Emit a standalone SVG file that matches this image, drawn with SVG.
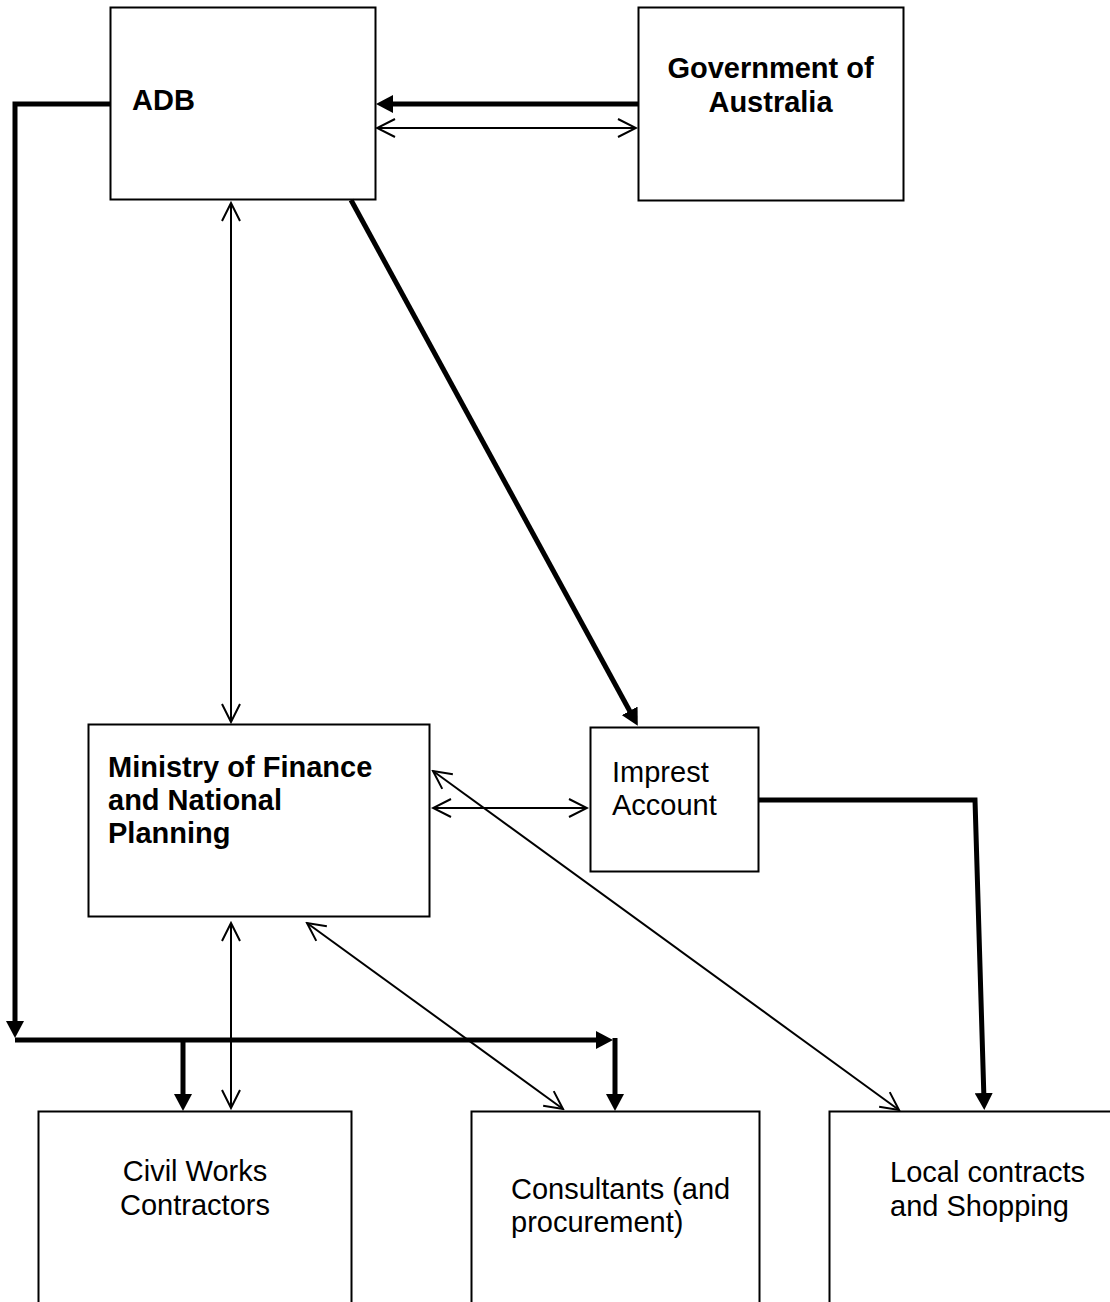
<svg xmlns="http://www.w3.org/2000/svg" width="1110" height="1302" viewBox="0 0 1110 1302">
<style>
.box{fill:#fff;stroke:#000;stroke-width:2}
.b{font-family:"Liberation Sans",Arial,sans-serif;font-size:29px;font-weight:bold;fill:#000}
.r{font-family:"Liberation Sans",Arial,sans-serif;font-size:29px;fill:#000}
.thick{fill:none;stroke:#000;stroke-width:5}
.thin{fill:none;stroke:#000;stroke-width:2}
</style>
<defs>
<marker id="fa" markerUnits="userSpaceOnUse" viewBox="0 0 17 18" markerWidth="17" markerHeight="18" refX="7" refY="9" orient="auto">
<path d="M0,0 L17,9 L0,18 z" fill="#000"/>
</marker>
<marker id="oa" markerUnits="userSpaceOnUse" viewBox="-1 -1 21 20" markerWidth="21" markerHeight="20" refX="18" refY="9" orient="auto-start-reverse">
<path d="M0,0 L18,9 L0,18" fill="none" stroke="#000" stroke-width="2"/>
</marker>
</defs>
<rect width="1110" height="1302" fill="#fff"/>
<g id="nodes">
<g id="adb"><rect class="box" x="110.5" y="7.5" width="265" height="192"/><text class="b" x="132" y="110">ADB</text></g>
<g id="gov"><rect class="box" x="638.5" y="7.5" width="265" height="193"/><text class="b" x="770.5" y="78" text-anchor="middle">Government of</text><text class="b" x="770.5" y="112" text-anchor="middle">Australia</text></g>
<g id="mof"><rect class="box" x="88.5" y="724.5" width="341" height="192"/><text class="b" x="108" y="777">Ministry of Finance</text><text class="b" x="108" y="810">and National</text><text class="b" x="108" y="843">Planning</text></g>
<g id="imprest"><rect class="box" x="590.5" y="727.5" width="168" height="144"/><text class="r" x="612" y="782">Imprest</text><text class="r" x="612" y="815">Account</text></g>
<g id="civil"><rect class="box" x="38.5" y="1111.5" width="313" height="200"/><text class="r" x="195" y="1181" text-anchor="middle">Civil Works</text><text class="r" x="195" y="1215" text-anchor="middle">Contractors</text></g>
<g id="consult"><rect class="box" x="471.5" y="1111.5" width="288" height="200"/><text class="r" x="511" y="1199">Consultants (and</text><text class="r" x="511" y="1232">procurement)</text></g>
<g id="local"><rect class="box" x="829.5" y="1111.5" width="300" height="200"/><text class="r" x="890" y="1182">Local contracts</text><text class="r" x="890" y="1216">and Shopping</text></g>
</g>
<g id="connectors">
<polyline class="thick" points="110,104 15,104 15,1028" marker-end="url(#fa)"/>
<line class="thick" x1="15" y1="1040" x2="603" y2="1040" marker-end="url(#fa)"/>
<line class="thick" x1="615" y1="1038" x2="615" y2="1101" marker-end="url(#fa)"/>
<line class="thick" x1="183" y1="1040" x2="183" y2="1101" marker-end="url(#fa)"/>
<line class="thick" x1="638" y1="104" x2="386" y2="104" marker-end="url(#fa)"/>
<line class="thin" x1="377" y1="128" x2="636" y2="128" marker-start="url(#oa)" marker-end="url(#oa)"/>
<line class="thin" x1="231" y1="203" x2="231" y2="722" marker-start="url(#oa)" marker-end="url(#oa)"/>
<line class="thick" x1="351" y1="200" x2="633" y2="717" marker-end="url(#fa)"/>
<line class="thin" x1="433" y1="808" x2="587" y2="808" marker-start="url(#oa)" marker-end="url(#oa)"/>
<line class="thin" x1="433" y1="771" x2="899" y2="1110" marker-start="url(#oa)" marker-end="url(#oa)"/>
<line class="thin" x1="231" y1="923" x2="231" y2="1108" marker-start="url(#oa)" marker-end="url(#oa)"/>
<line class="thin" x1="307" y1="923" x2="563" y2="1109" marker-start="url(#oa)" marker-end="url(#oa)"/>
<polyline class="thick" points="758,800 975,800 984,1100" marker-end="url(#fa)"/>
</g>
</svg>
